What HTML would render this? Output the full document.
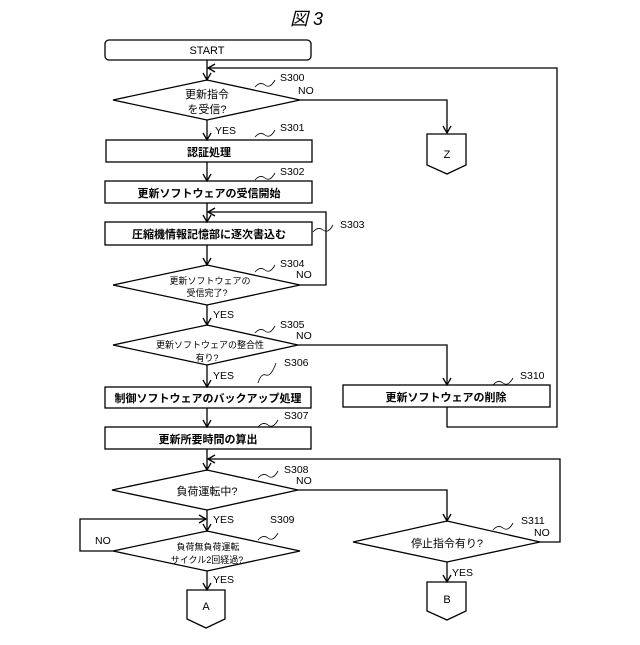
<!DOCTYPE html>
<html><head><meta charset="utf-8"><style>
body{margin:0;background:#fff}
svg text{font-family:"Liberation Sans","Noto Sans CJK JP",sans-serif;fill:#000}
</style></head><body>
<svg width="640" height="640" viewBox="0 0 640 640" xmlns="http://www.w3.org/2000/svg">
<defs><marker id="a" markerWidth="10" markerHeight="10" refX="8" refY="5" orient="auto" markerUnits="userSpaceOnUse"><path d="M1,1 L8,5 L1,9" fill="none" stroke="#000" stroke-width="1.3"/></marker></defs>
<g fill="none" stroke="#000" stroke-width="1.3">
<rect x="105" y="40" width="206" height="20" rx="4"/>
<line x1="207" y1="60" x2="207" y2="80" marker-end="url(#a)"/>
<polyline points="447,407 447,427 557,427 557,68 208,68" marker-end="url(#a)"/>
<polygon points="113,100 207,80 300,100 207,120"/>
<polyline points="300,100 447,100 447,133" marker-end="url(#a)"/>
<polygon points="427,134 466,134 466,165 447,174 427,165"/>
<line x1="207" y1="120" x2="207" y2="140" marker-end="url(#a)"/>
<rect x="106" y="140" width="206" height="22"/>
<line x1="207" y1="162" x2="207" y2="181" marker-end="url(#a)"/>
<rect x="105" y="181" width="207" height="22"/>
<line x1="207" y1="203" x2="207" y2="222" marker-end="url(#a)"/>
<polyline points="300,285 326,285 326,212 208,212" marker-end="url(#a)"/>
<rect x="105" y="222" width="207" height="23"/>
<line x1="207" y1="245" x2="207" y2="265" marker-end="url(#a)"/>
<polygon points="113,285 207,265 300,285 207,305"/>
<line x1="207" y1="305" x2="207" y2="325" marker-end="url(#a)"/>
<polygon points="113,345 207,325 298,345 207,365"/>
<polyline points="298,345 447,345 447,385" marker-end="url(#a)"/>
<rect x="343" y="385" width="207" height="22"/>
<line x1="207" y1="365" x2="207" y2="387" marker-end="url(#a)"/>
<rect x="105" y="387" width="206" height="21"/>
<line x1="207" y1="408" x2="207" y2="427" marker-end="url(#a)"/>
<rect x="105" y="427" width="206" height="22"/>
<line x1="207" y1="449" x2="207" y2="470" marker-end="url(#a)"/>
<polyline points="540,542 560,542 560,459 208,459" marker-end="url(#a)"/>
<polygon points="112,490 207,470 298,490 207,510"/>
<polyline points="298,490 447,490 447,521" marker-end="url(#a)"/>
<polygon points="353,542 447,521 540,542 447,562"/>
<line x1="447" y1="562" x2="447" y2="582" marker-end="url(#a)"/>
<polygon points="427,582 466,582 466,611 447,620 427,611"/>
<line x1="207" y1="510" x2="207" y2="531" marker-end="url(#a)"/>
<polyline points="113,551 80,551 80,519 206,519" marker-end="url(#a)"/>
<polygon points="113,551 207,531 300,551 207,571"/>
<line x1="207" y1="571" x2="207" y2="590" marker-end="url(#a)"/>
<polygon points="187,590 225,590 225,619 206,628 187,619"/>
<g stroke-width="0.8">
<path d="M255,87 q5,-6 10,-2 t10,-5"/><path d="M255,137 q5,-6 10,-2 t10,-5"/><path d="M255,180 q5,-6 10,-2 t10,-5"/>
<path d="M313,232 q5,-6 10,-2 t10,-5"/><path d="M255,272 q5,-6 10,-2 t10,-5"/><path d="M255,333 q5,-6 10,-2 t10,-5"/>
<path d="M258,383 q3,-10 8,-8 t10,-12"/><path d="M258,427 q5,-6 10,-2 t10,-5"/><path d="M258,478 q5,-6 10,-2 t10,-5"/>
<path d="M258,540 q5,-6 10,-2 t10,-5"/><path d="M493,385 q5,-6 10,-2 t10,-5"/><path d="M493,530 q5,-6 10,-2 t10,-5"/>
</g>
</g>
<text x="290" y="25" font-size="18" font-style="italic">図 3</text>
<g font-size="11" text-anchor="middle">
<text x="207" y="54">START</text>
<text x="207" y="98">更新指令</text><text x="207" y="113">を受信?</text>
<text x="447" y="158">Z</text>
<text x="209" y="156" font-weight="bold">認証処理</text>
<text x="209" y="197" font-weight="bold">更新ソフトウェアの受信開始</text>
<text x="209" y="238" font-weight="bold">圧縮機情報記憶部に逐次書込む</text>
<text x="210" y="284" font-size="9">更新ソフトウェアの</text><text x="207" y="296" font-size="9">受信完了?</text>
<text x="210" y="348" font-size="9">更新ソフトウェアの整合性</text><text x="207" y="361" font-size="9">有り?</text>
<text x="446" y="401" font-weight="bold">更新ソフトウェアの削除</text>
<text x="208" y="402" font-weight="bold">制御ソフトウェアのバックアップ処理</text>
<text x="208" y="443" font-weight="bold">更新所要時間の算出</text>
<text x="207" y="495">負荷運転中?</text>
<text x="447" y="547">停止指令有り?</text>
<text x="447" y="603">B</text>
<text x="208" y="550" font-size="9">負荷無負荷運転</text><text x="207" y="563" font-size="9">サイクル2回経過?</text>
<text x="206" y="610">A</text>
</g>
<g font-size="10.5">
<text x="280" y="81">S300</text><text x="298" y="94">NO</text>
<text x="215" y="134">YES</text><text x="280" y="131">S301</text>
<text x="280" y="175">S302</text><text x="340" y="228">S303</text>
<text x="280" y="267">S304</text><text x="296" y="278">NO</text>
<text x="213" y="318">YES</text>
<text x="280" y="328">S305</text><text x="296" y="339">NO</text>
<text x="520" y="379">S310</text>
<text x="213" y="379">YES</text><text x="284" y="366">S306</text>
<text x="284" y="419">S307</text>
<text x="284" y="473">S308</text><text x="296" y="484">NO</text>
<text x="213" y="523">YES</text><text x="270" y="523">S309</text>
<text x="95" y="544">NO</text>
<text x="521" y="524">S311</text><text x="534" y="536">NO</text>
<text x="452" y="576">YES</text>
<text x="213" y="583">YES</text>
</g>
</svg>
</body></html>
